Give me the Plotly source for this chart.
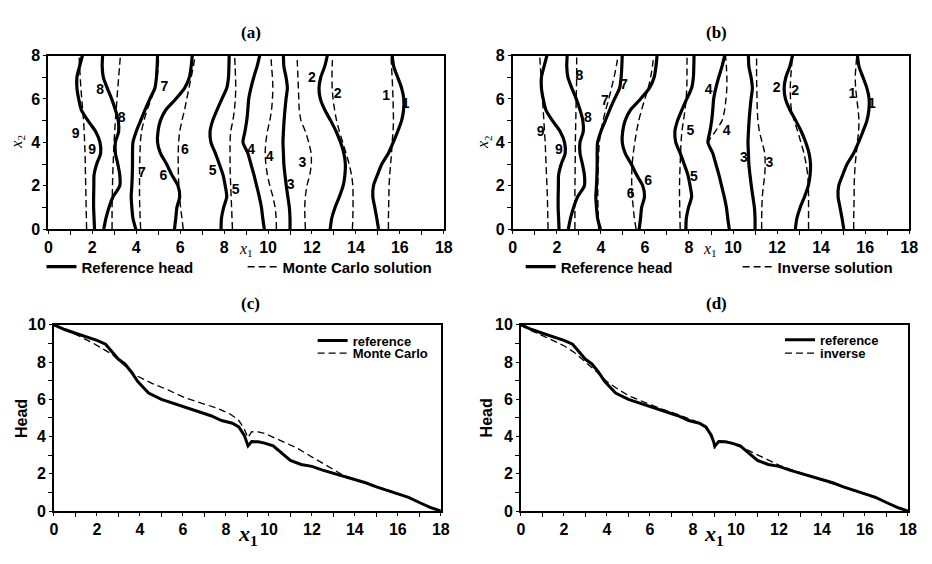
import plotly.graph_objects as go

# ---------------- data ----------------
X2_GRID = [0.0, 0.5, 1.0, 1.5, 2.0, 2.5, 3.0, 3.5, 4.0, 4.5, 5.0, 5.5, 6.0, 6.5, 7.0, 7.5, 8.0]

# reference head contours (x1 at each x2 of X2_GRID)
REF_1 = [15.03, 14.95, 14.86, 14.77, 14.80, 14.98, 15.18, 15.48, 15.70, 15.90, 16.08, 16.17, 16.18, 16.08, 15.90, 15.72, 15.65]
REF_2 = [12.83, 12.90, 13.05, 13.25, 13.42, 13.50, 13.52, 13.45, 13.30, 13.10, 12.85, 12.58, 12.38, 12.32, 12.40, 12.58, 12.70]
REF_3 = [11.00, 11.00, 10.97, 10.90, 10.83, 10.77, 10.72, 10.70, 10.68, 10.70, 10.73, 10.77, 10.82, 10.88, 10.82, 10.72, 10.70]
REF_4 = [9.83, 9.76, 9.70, 9.60, 9.48, 9.36, 9.22, 9.08, 8.86, 8.95, 9.03, 9.08, 9.12, 9.22, 9.35, 9.50, 9.62]
REF_5 = [7.86, 7.88, 7.98, 8.12, 8.05, 7.95, 7.78, 7.60, 7.40, 7.36, 7.48, 7.68, 7.90, 8.12, 8.20, 8.22, 8.23]
REF_6 = [5.74, 5.80, 5.85, 5.98, 5.90, 5.62, 5.38, 5.10, 4.97, 4.99, 5.10, 5.35, 5.80, 6.20, 6.42, 6.50, 6.55]
REF_7 = [3.98, 3.85, 3.80, 3.77, 3.80, 3.82, 3.83, 3.83, 3.85, 4.00, 4.20, 4.40, 4.62, 4.85, 4.92, 4.95, 4.97]
REF_8 = [2.52, 2.62, 2.76, 2.95, 3.25, 3.25, 3.16, 3.05, 3.05, 3.20, 3.18, 3.05, 2.88, 2.68, 2.50, 2.45, 2.47]
REF_9 = [2.10, 2.08, 2.06, 2.06, 2.07, 2.08, 2.20, 2.38, 2.35, 2.15, 1.80, 1.50, 1.38, 1.30, 1.30, 1.42, 1.55]

# Monte Carlo solution contours
MC_1 = [15.48, 15.48, 15.49, 15.50, 15.51, 15.54, 15.58, 15.62, 15.65, 15.69, 15.71, 15.70, 15.69, 15.67, 15.65, 15.62, 15.60]
MC_2 = [13.84, 13.86, 13.87, 13.87, 13.86, 13.80, 13.69, 13.55, 13.40, 13.25, 13.12, 13.03, 12.96, 12.92, 12.91, 12.92, 12.94]
MC_3 = [11.70, 11.68, 11.67, 11.70, 11.77, 11.90, 11.97, 11.96, 11.85, 11.70, 11.50, 11.42, 11.40, 11.38, 11.36, 11.34, 11.32]
MC_4 = [10.38, 10.37, 10.32, 10.22, 10.08, 9.97, 9.90, 9.87, 9.90, 9.97, 10.08, 10.16, 10.20, 10.22, 10.20, 10.16, 10.13]
MC_5 = [8.38, 8.36, 8.34, 8.32, 8.30, 8.28, 8.27, 8.27, 8.27, 8.30, 8.40, 8.47, 8.51, 8.53, 8.52, 8.50, 8.48]
MC_6 = [6.14, 6.08, 6.02, 5.97, 5.94, 5.92, 5.91, 5.91, 5.93, 5.98, 6.08, 6.20, 6.30, 6.40, 6.50, 6.60, 6.68]
MC_7 = [4.20, 4.18, 4.16, 4.15, 4.15, 4.15, 4.16, 4.17, 4.19, 4.24, 4.35, 4.50, 4.68, 4.85, 4.95, 5.00, 5.02]
MC_8 = [2.90, 2.90, 2.90, 2.91, 2.92, 2.93, 2.95, 2.97, 2.99, 3.02, 3.05, 3.09, 3.12, 3.16, 3.20, 3.24, 3.28]
MC_9 = [1.74, 1.73, 1.72, 1.71, 1.70, 1.69, 1.68, 1.67, 1.65, 1.63, 1.60, 1.56, 1.52, 1.48, 1.45, 1.42, 1.40]

# inverse solution contours
INV_1 = [15.48, 15.48, 15.49, 15.50, 15.50, 15.52, 15.55, 15.60, 15.65, 15.70, 15.72, 15.68, 15.62, 15.57, 15.55, 15.58, 15.62]
INV_2 = [13.43, 13.43, 13.43, 13.43, 13.42, 13.39, 13.32, 13.22, 13.08, 12.94, 12.78, 12.65, 12.61, 12.60, 12.62, 12.66, 12.69]
INV_3 = [11.30, 11.30, 11.31, 11.33, 11.38, 11.44, 11.46, 11.44, 11.32, 11.20, 11.13, 11.10, 11.09, 11.08, 11.07, 11.07, 11.07]
INV_4 = [9.82, 9.76, 9.70, 9.60, 9.48, 9.36, 9.22, 9.08, 8.88, 9.20, 9.50, 9.62, 9.68, 9.72, 9.72, 9.70, 9.66]
INV_5 = [7.60, 7.59, 7.58, 7.57, 7.57, 7.58, 7.60, 7.62, 7.64, 7.68, 7.75, 7.82, 7.87, 7.90, 7.91, 7.91, 7.91]
INV_6 = [5.60, 5.52, 5.47, 5.42, 5.40, 5.40, 5.42, 5.47, 5.54, 5.62, 5.72, 5.85, 6.00, 6.15, 6.26, 6.34, 6.40]
INV_7 = [3.90, 3.88, 3.87, 3.86, 3.86, 3.87, 3.88, 3.90, 3.93, 4.00, 4.10, 4.22, 4.36, 4.48, 4.60, 4.70, 4.78]
INV_8 = [2.82, 2.82, 2.82, 2.82, 2.82, 2.83, 2.83, 2.84, 2.84, 2.85, 2.86, 2.87, 2.88, 2.89, 2.90, 2.90, 2.90]
INV_9 = [1.60, 1.59, 1.58, 1.57, 1.55, 1.53, 1.51, 1.49, 1.47, 1.44, 1.41, 1.38, 1.35, 1.31, 1.28, 1.25, 1.22]

# contour labels
LABELS_A_X = [1.24, 1.99, 2.36, 3.34, 5.28, 4.26, 6.21, 5.24, 7.48, 8.53, 9.23, 10.07, 11.57, 11.03, 12.00, 13.17, 15.38, 16.26]
LABELS_A_Y = [4.37, 3.63, 6.39, 5.12, 6.54, 2.58, 3.63, 2.43, 2.66, 1.76, 3.63, 3.30, 3.03, 1.99, 6.94, 6.19, 6.13, 5.72]
LABELS_B_X = [1.27, 2.09, 3.02, 3.41, 5.05, 4.18, 6.15, 5.35, 8.07, 8.22, 8.89, 9.71, 10.49, 11.65, 11.98, 12.82, 15.42, 16.31]
LABELS_B_Y = [4.45, 3.63, 7.01, 5.12, 6.64, 5.87, 2.21, 1.61, 4.48, 2.36, 6.39, 4.48, 3.25, 3.03, 6.46, 6.34, 6.19, 5.72]
LABELS_TEXT = ["9", "9", "8", "8", "7", "7", "6", "6", "5", "5", "4", "4", "3", "3", "2", "2", "1", "1"]

# head profiles along x1
HEAD_X_REF = [0, 0.5, 1, 1.5, 2, 2.4, 2.6, 3.0, 3.3, 3.6, 3.9, 4.4, 5.0, 5.8, 6.4, 6.9, 7.3, 7.8, 8.3, 8.6,
              8.85, 9.03, 9.2, 9.5, 9.8, 10.2, 10.6, 11.0, 11.5, 12.0, 12.5, 13.0, 13.5, 14.0, 14.5, 15.0,
              15.5, 16.0, 16.5, 17.0, 17.5, 18.0]
HEAD_REF = [10.0, 9.75, 9.55, 9.35, 9.17, 8.96, 8.70, 8.15, 7.90, 7.47, 6.95, 6.34, 6.00, 5.70, 5.47, 5.25,
            5.12, 4.86, 4.72, 4.52, 4.08, 3.50, 3.73, 3.72, 3.65, 3.50, 3.10, 2.72, 2.50, 2.40, 2.20, 2.03,
            1.88, 1.70, 1.52, 1.30, 1.12, 0.95, 0.74, 0.46, 0.20, 0.0]
HEAD_X_MC = [0, 0.5, 0.9, 1.8, 2.7, 3.3, 3.8, 4.56, 5.3, 6.1, 6.85, 7.6, 8.2, 8.6, 8.85, 9.02, 9.2, 9.5,
             9.8, 10.5, 11.3, 12.05, 12.8, 13.2, 13.5, 14.0, 14.5, 15.0, 15.5, 16.0, 16.5, 17.0, 17.5, 18.0]
HEAD_MC = [10.0, 9.72, 9.55, 9.03, 8.42, 7.81, 7.29, 6.86, 6.51, 6.08, 5.82, 5.52, 5.21, 4.86, 4.43, 3.95,
           4.26, 4.25, 4.17, 3.82, 3.39, 2.87, 2.35, 2.10, 1.90, 1.70, 1.52, 1.30, 1.12, 0.95, 0.74, 0.46,
           0.20, 0.0]
HEAD_X_INV = [0, 0.5, 1, 1.5, 2, 2.5, 3, 3.5, 4, 4.5, 5, 5.5, 6, 6.5, 7, 7.5, 8, 8.4, 8.7, 8.9, 9.0, 9.15,
              9.5, 10, 10.5, 11, 11.5, 12, 12.5, 13, 13.5, 14, 14.5, 15, 15.5, 16, 16.5, 17, 17.5, 18]
HEAD_INV = [10.0, 9.68, 9.42, 9.15, 8.88, 8.50, 8.02, 7.50, 6.95, 6.55, 6.20, 5.95, 5.72, 5.50, 5.32, 5.10,
            4.88, 4.65, 4.35, 3.85, 3.35, 3.72, 3.78, 3.55, 3.30, 3.02, 2.75, 2.47, 2.25, 2.05, 1.85, 1.65,
            1.45, 1.25, 1.08, 0.90, 0.70, 0.45, 0.22, 0.0]

REF_SET = [REF_1, REF_2, REF_3, REF_4, REF_5, REF_6, REF_7, REF_8, REF_9]
MC_SET = [MC_1, MC_2, MC_3, MC_4, MC_5, MC_6, MC_7, MC_8, MC_9]
INV_SET = [INV_1, INV_2, INV_3, INV_4, INV_5, INV_6, INV_7, INV_8, INV_9]

# ---------------- figure ----------------
W, H = 932, 564
SANS = "Liberation Sans, Arial, sans-serif"
SERIF = "Liberation Serif, Times New Roman, serif"
DASH = "7px,4px"

fig = go.Figure()


def add_contours(sets, xa, ya, name, legend, dashed):
    for i, xs in enumerate(sets):
        fig.add_trace(go.Scatter(
            x=xs, y=X2_GRID, xaxis=xa, yaxis=ya, mode="lines",
            line=dict(color="black", width=1.4 if dashed else 3.2,
                      dash=DASH if dashed else "solid", shape="spline", smoothing=0.7),
            name=name, legend=legend, showlegend=(i == 0), hoverinfo="skip"))


add_contours(REF_SET, "x", "y", "Reference head", "legend", False)
add_contours(MC_SET, "x", "y", "Monte Carlo solution", "legend2", True)
add_contours(REF_SET, "x2", "y2", "Reference head", "legend3", False)
add_contours(INV_SET, "x2", "y2", "Inverse solution", "legend4", True)

for xa, ya, lx, ly in (("x", "y", LABELS_A_X, LABELS_A_Y), ("x2", "y2", LABELS_B_X, LABELS_B_Y)):
    fig.add_trace(go.Scatter(x=lx, y=ly, xaxis=xa, yaxis=ya, mode="text", text=LABELS_TEXT,
                             textfont=dict(family=SANS, size=14, color="black", weight="bold"),
                             showlegend=False, hoverinfo="skip"))

fig.add_trace(go.Scatter(x=HEAD_X_REF, y=HEAD_REF, xaxis="x3", yaxis="y3", mode="lines",
                         line=dict(color="black", width=3), name="reference", legend="legend5"))
fig.add_trace(go.Scatter(x=HEAD_X_MC, y=HEAD_MC, xaxis="x3", yaxis="y3", mode="lines",
                         line=dict(color="black", width=1.3, dash=DASH), name="Monte Carlo", legend="legend6"))
fig.add_trace(go.Scatter(x=HEAD_X_REF, y=HEAD_REF, xaxis="x4", yaxis="y4", mode="lines",
                         line=dict(color="black", width=3), name="reference", legend="legend7"))
fig.add_trace(go.Scatter(x=HEAD_X_INV, y=HEAD_INV, xaxis="x4", yaxis="y4", mode="lines",
                         line=dict(color="black", width=1.3, dash=DASH), name="inverse", legend="legend8"))


def px_x(p):
    return p / W


def px_y(p):
    return 1 - p / H


def axis(dom, rng, anchor, major, minor):
    return dict(domain=dom, range=rng, anchor=anchor, showline=True, linecolor="black", linewidth=2,
                mirror=True, ticks="outside", ticklen=3, tickwidth=1, tickcolor="black",
                dtick=major, tick0=0, showgrid=False, zeroline=False,
                tickfont=dict(family=SANS, size=16, color="black", weight="bold"),
                minor=dict(ticks="outside", ticklen=4, tickwidth=1, tickcolor="black", dtick=minor,
                           tick0=0, showgrid=False))


AX_A = [px_x(45), px_x(446)]
AX_B = [px_x(516), px_x(918)]
AX_C = [px_x(50.7), px_x(443)]
AX_D = [px_x(524.3), px_x(916.7)]
AY_TOP = [px_y(228), px_y(49)]
AY_BOT = [px_y(518.7), px_y(326.7)]


def leg(xp, yp, size):
    return dict(x=px_x(xp), y=px_y(yp), xanchor="left", yanchor="middle", orientation="h",
                bgcolor="rgba(0,0,0,0)", borderwidth=0, itemwidth=30,
                font=dict(family=SANS, size=size, color="black", weight="bold"))


fig.update_layout(
    width=W, height=H, margin=dict(l=0, r=0, t=0, b=0),
    paper_bgcolor="white", plot_bgcolor="white",
    xaxis=axis(AX_A, [0, 18], "y", 2, 1),
    yaxis=axis(AY_TOP, [0, 8], "x", 2, 1),
    xaxis2=axis(AX_B, [0, 18], "y2", 2, 1),
    yaxis2=axis(AY_TOP, [0, 8], "x2", 2, 1),
    xaxis3=axis(AX_C, [0, 18], "y3", 2, 1),
    yaxis3=axis(AY_BOT, [0, 10], "x3", 2, 1),
    xaxis4=axis(AX_D, [0, 18], "y4", 2, 1),
    yaxis4=axis(AY_BOT, [0, 10], "x4", 2, 1),
    legend=leg(38, 267, 15),
    legend2=leg(242, 267, 15),
    legend3=leg(524, 267, 15),
    legend4=leg(744, 267, 15),
    legend5=leg(313, 343, 13),
    legend6=leg(313, 356, 13),
    legend7=leg(787, 342, 13),
    legend8=leg(787, 356, 13),
)

ANN = [
    ("<b>(a)</b>", 251, 25, SERIF, 17, 0),
    ("<b>(b)</b>", 723, 25, SERIF, 17, 0),
    ("<b>(c)</b>", 250, 305, SERIF, 17, 0),
    ("<b>(d)</b>", 723, 305, SERIF, 17, 0),
    ("<i>x</i><sub>1</sub>", 245, 249, SERIF, 16, 0),
    ("<i>x</i><sub>1</sub>", 716, 249, SERIF, 16, 0),
    ("<i>x</i><sub>2</sub>", 14, 138, SERIF, 16, -90),
    ("<i>x</i><sub>2</sub>", 487, 138, SERIF, 16, -90),
    ("<b>Head</b>", 17, 423, SANS, 16, -90),
    ("<b>Head</b>", 489, 423, SANS, 16, -90),
    ("<b><i>x</i><sub>1</sub></b>", 247, 543, SERIF, 22, 0),
    ("<b><i>x</i><sub>1</sub></b>", 720, 543, SERIF, 22, 0),
]
for text, xp, yp, fam, size, ang in ANN:
    fig.add_annotation(text=text, x=px_x(xp), y=px_y(yp), xref="paper", yref="paper",
                       xanchor="center", yanchor="middle", showarrow=False, textangle=ang,
                       font=dict(family=fam, size=size, color="black"))

fig.write_html("out.html")
